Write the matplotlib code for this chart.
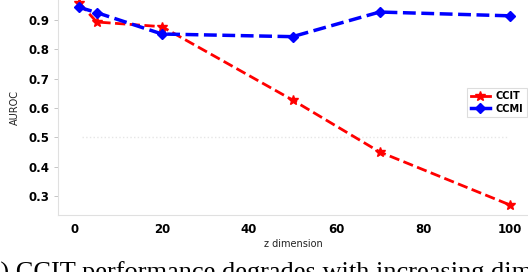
import matplotlib
matplotlib.use("Agg")
import matplotlib.pyplot as plt

z_dim = [1, 5, 20, 50, 70, 100]
ccit = [0.958, 0.893, 0.877, 0.627, 0.450, 0.269]
ccmi = [0.943, 0.925, 0.852, 0.843, 0.927, 0.914]
yticks = [0.3, 0.4, 0.5, 0.6, 0.7, 0.8, 0.9]
xticks = [0, 20, 40, 60, 80, 100]
caption = "(a) CCIT performance degrades with increasing dimension of Z"

W, H = 528, 272
fig = plt.figure(figsize=(W / 100, H / 100), dpi=100)
ax = fig.add_axes([58 / W, 57 / H, 1 - 58 / W, 1 - 57 / H])

ax.axhline(0.5, xmin=0.05, xmax=0.955, color="#e6e6e6", lw=1, ls=":", zorder=0)
ax.plot(z_dim, ccit, color="red", ls="--", lw=2, marker="*", ms=7, label="CCIT")
ax.plot(z_dim, ccmi, color="blue", ls="--", lw=2.5, marker="D", ms=5.5, label="CCMI")

ax.set_xlim(-3.9, 104.1)
ax.set_ylim(0.235, 0.968)
ax.set_xticks(xticks)
ax.set_yticks(yticks)
ax.set_xticklabels([str(t) for t in xticks], fontsize=8.5, fontweight="bold")
ax.set_yticklabels([f"{t:.1f}" for t in yticks], fontsize=8.5, fontweight="bold")
ax.tick_params(axis="x", length=0, pad=6)
ax.tick_params(axis="y", length=3, width=0.6, color="#bbbbbb", pad=3)
for s in ["top", "right"]:
    ax.spines[s].set_visible(False)
for s in ["left", "bottom"]:
    ax.spines[s].set_color("#e0e0e0")
    ax.spines[s].set_linewidth(0.8)

ax.set_xlabel("z dimension", fontsize=7, labelpad=2, color="#222222")
ax.set_ylabel("AUROC", fontsize=7, labelpad=6, color="#222222")

leg = fig.legend(*ax.get_legend_handles_labels(), loc="upper right",
                 bbox_to_anchor=(527 / W, 1 - 88 / H),
                 prop={"weight": "bold", "size": 7}, handlelength=2.0, handletextpad=0.6,
                 borderpad=0.35, borderaxespad=0, labelspacing=0.25, fancybox=False,
                 framealpha=1)
leg.get_frame().set_edgecolor("#dddddd")
leg.get_frame().set_linewidth(0.8)
for line in leg.get_lines():
    line.set_linestyle("-")

fig.text(-20 / W, (H - 280) / H, caption, fontsize=19, family="Liberation Serif",
         va="baseline", ha="left")

fig.savefig("out.png", dpi=100)
